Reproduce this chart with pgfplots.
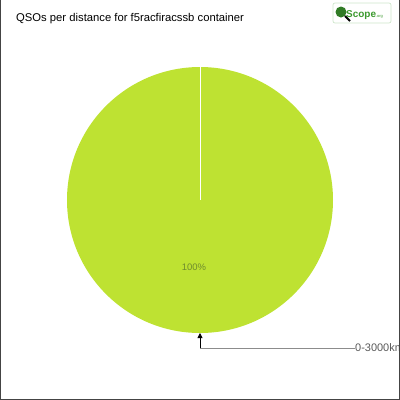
\documentclass[border=0pt]{standalone}
\usepackage{pgfplots}
\pgfplotsset{compat=1.18}
\usepackage{pgfplotstable}
\usepackage{fontspec}
\setmainfont{Liberation Sans}
\usetikzlibrary{arrows.meta}

\definecolor{slice}{HTML}{BEE232}
\definecolor{pctcol}{HTML}{6F8C2E}
\definecolor{leader}{HTML}{8C8C8C}
\definecolor{frame}{HTML}{444444}
\definecolor{logogreen}{HTML}{3C9A2E}

% one slice: distance band and its share in percent
\pgfplotstableread[columns/band/.style={string type}]{
band share
0-3000km 100
}\qsotable
\pgfplotstablegetelem{0}{band}\of\qsotable
\let\band\pgfplotsretval
\pgfplotstablegetelem{0}{share}\of\qsotable
\let\share\pgfplotsretval

\begin{document}
\begin{tikzpicture}[x=1bp,y=1bp]
\begin{axis}[
    at={(0,0)}, anchor=south west,
    width=400bp, height=400bp, scale only axis,
    hide axis, clip=false,
    xmin=0, xmax=400, ymin=0, ymax=400,
    y dir=reverse,
]
% pie: a single slice covering the whole disc
\addplot[draw=none, fill=slice] coordinates {(200,200)}
    node[circle, fill=slice, inner sep=0pt, minimum size=266bp] {};
\draw[white, line width=1bp] (axis cs:200,67) -- (axis cs:200,200);
\node[text=pctcol, font=\fontsize{9.5}{11}\selectfont] at (axis cs:194,267)
    {\pgfmathprintnumber[fixed,precision=0,assume math mode=true]{\share}\%};

% leader line with label
\draw[leader, line width=1bp] (axis cs:200,348) -- (axis cs:355,348);
\draw[black, line width=0.8bp, -{Triangle[length=5bp,width=5bp]}]
    (axis cs:200,348) -- (axis cs:200,333);
\node[anchor=west, inner sep=1bp, text=black!65, font=\fontsize{11}{13}\selectfont]
    at (axis cs:354,348) {\band};

% title
\node[anchor=base west, inner sep=0pt, font=\fontsize{11.3}{13}\selectfont]
    at (axis cs:16,21) {QSOs per distance for f5racfiracssb container};

% logo
\draw[logogreen!25, rounded corners=2bp, line width=0.7bp, fill=white]
    (axis cs:333,3) rectangle (axis cs:391,23);
\fill[logogreen!80!black] (axis cs:341,12) circle[radius=5.5];
\draw[black, line width=2bp] (axis cs:345,16) -- (axis cs:350,21);
\node[anchor=base west, inner sep=0pt, text=logogreen, font=\bfseries\fontsize{10}{12}\selectfont]
    at (axis cs:346,17) {Scope\textnormal{\fontsize{4}{5}\selectfont .org}};

% frame on left, right and bottom
\draw[frame, line width=1.2bp] (axis cs:0.6,0) -- (axis cs:0.6,399.4)
    -- (axis cs:399.4,399.4) -- (axis cs:399.4,0);
\end{axis}
\pgfresetboundingbox
\useasboundingbox (0,0) rectangle (400bp,400bp);
\end{tikzpicture}
\end{document}
